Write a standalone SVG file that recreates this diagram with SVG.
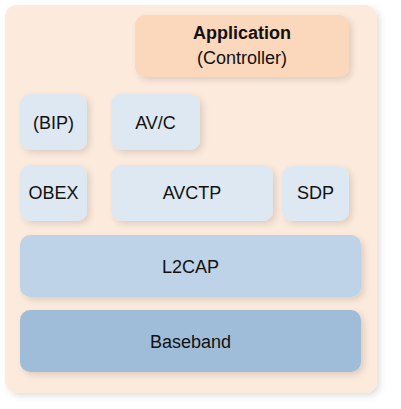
<svg xmlns="http://www.w3.org/2000/svg" width="401" height="409" viewBox="0 0 401 409">
<style>
.t{font-family:"Liberation Sans",Arial,sans-serif;font-size:18px;fill:#111;text-anchor:middle}
.b{font-weight:bold}
.lb{fill:#DDE8F2}
</style>
<defs>
<filter id="sh" x="-10%" y="-10%" width="125%" height="130%">
<feDropShadow dx="3" dy="3" stdDeviation="3" flood-color="#000" flood-opacity="0.12"/>
</filter>
</defs>
<rect x="5" y="5" width="372" height="388" rx="12" fill="#FCEADC" filter="url(#sh)"/>
<g id="application"><rect x="135" y="15" width="214" height="62" rx="10" fill="#FBD7BC" filter="url(#sh)"/>
<text class="t b" x="242" y="39">Application</text><text class="t" x="242" y="64">(Controller)</text></g>
<g id="bip"><rect class="lb" x="20" y="94" width="67" height="56" rx="10" filter="url(#sh)"/><text class="t" x="53.5" y="129">(BIP)</text></g>
<g id="avc"><rect class="lb" x="111" y="94" width="89" height="56" rx="10" filter="url(#sh)"/><text class="t" x="155.5" y="129">AV/C</text></g>
<g id="obex"><rect class="lb" x="20" y="165" width="67" height="56" rx="10" filter="url(#sh)"/><text class="t" x="53.5" y="199">OBEX</text></g>
<g id="avctp"><rect class="lb" x="111" y="165" width="162" height="56" rx="10" filter="url(#sh)"/><text class="t" x="192" y="199">AVCTP</text></g>
<g id="sdp"><rect class="lb" x="282" y="166" width="67" height="55" rx="10" filter="url(#sh)"/><text class="t" x="315.5" y="199">SDP</text></g>
<g id="l2cap"><rect x="20" y="235" width="341" height="62" rx="10" fill="#BED3E7" filter="url(#sh)"/><text class="t" x="190.5" y="273">L2CAP</text></g>
<g id="baseband"><rect x="20" y="310" width="341" height="62" rx="10" fill="#9FBDD9" filter="url(#sh)"/><text class="t" x="190.5" y="348">Baseband</text></g>
<g id="connectors"/>
</svg>
